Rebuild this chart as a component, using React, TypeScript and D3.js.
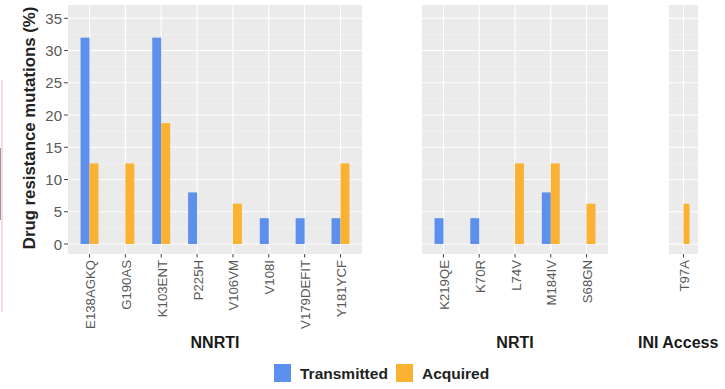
import React from "react";
import * as d3 from "d3";

const nnrtiCats = ["E138AGKQ", "G190AS", "K103ENT", "P225H", "V106VM", "V108I", "V179DEFIT", "Y181YCF"];
const nnrtiTransmitted = [32, 0, 32, 8, 0, 4, 4, 4];
const nnrtiAcquired = [12.5, 12.5, 18.75, 0, 6.25, 0, 0, 12.5];

const nrtiCats = ["K219QE", "K70R", "L74V", "M184IV", "S68GN"];
const nrtiTransmitted = [4, 4, 0, 8, 0];
const nrtiAcquired = [0, 0, 12.5, 12.5, 6.25];

const iniCats = ["T97A"];
const iniTransmitted = [0];
const iniAcquired = [6.25];

const panelNames = ["NNRTI", "NRTI", "INI Access"];
const yTicks = [0, 5, 10, 15, 20, 25, 30, 35];
const seriesNames = ["Transmitted", "Acquired"];
const colors = ["#5d8fec", "#fbb232"];

const W = 725, H = 389;
const panelTop = 5, panelBottom = 254;
const y = d3.scaleLinear().domain([0, 35]).range([244, 18.3]);

const panels = [
  { name: panelNames[0], cats: nnrtiCats, t: nnrtiTransmitted, a: nnrtiAcquired, x0: 68, x1: 362 },
  { name: panelNames[1], cats: nrtiCats, t: nrtiTransmitted, a: nrtiAcquired, x0: 422, x1: 608 },
  { name: panelNames[2], cats: iniCats, t: iniTransmitted, a: iniAcquired, x0: 669, x1: 698 },
];

const font = "'Liberation Sans', Arial, sans-serif";

export default function App() {
  const minor = d3.range(2.5, 36, 5);
  return (
    <svg width={W} height={H} style={{ position: "absolute", left: 0, top: 0, background: "#fff" }} fontFamily={font}>
      <rect x={0} y={0} width={W} height={H} fill="#fff" />
      <line x1={2} x2={2} y1={80} y2={312} stroke="#f4c6c8" strokeWidth={1.2} />
      <line x1={0.5} x2={0.5} y1={148} y2={220} stroke="#999" strokeWidth={1} />
      {panels.map((p, pi) => {
        const n = p.cats.length;
        const x = d3.scalePoint<string>().domain(p.cats).range([0, n - 1]);
        const unit = (p.x1 - p.x0) / (n - 1 + 1.2);
        const cx = (c: string) => p.x0 + (0.6 + (x(c) as number)) * unit;
        const bw = unit * 0.25;
        return (
          <g key={pi}>
            <rect x={p.x0} y={panelTop} width={p.x1 - p.x0} height={panelBottom - panelTop} fill="#ebebeb" />
            {minor.map((v) => (
              <line key={"m" + v} x1={p.x0} x2={p.x1} y1={y(v)} y2={y(v)} stroke="#f5f5f5" strokeWidth={0.6} />
            ))}
            {yTicks.map((v) => (
              <line key={"g" + v} x1={p.x0} x2={p.x1} y1={y(v)} y2={y(v)} stroke="#fff" strokeWidth={1.1} />
            ))}
            {p.cats.map((c) => (
              <line key={"v" + c} x1={cx(c)} x2={cx(c)} y1={panelTop} y2={panelBottom} stroke="#fff" strokeWidth={1.1} />
            ))}
            {p.cats.map((c, i) => (
              <g key={"b" + c}>
                {p.t[i] > 0 && (
                  <rect x={cx(c) - bw} y={y(p.t[i])} width={bw} height={y(0) - y(p.t[i])} fill={colors[0]} />
                )}
                {p.a[i] > 0 && (
                  <rect x={cx(c)} y={y(p.a[i])} width={bw} height={y(0) - y(p.a[i])} fill={colors[1]} />
                )}
              </g>
            ))}
            {p.cats.map((c) => (
              <g key={"t" + c}>
                <line x1={cx(c)} x2={cx(c)} y1={panelBottom} y2={panelBottom + 3.5} stroke="#444" strokeWidth={1} />
                <text
                  transform={`translate(${cx(c) + 1},${panelBottom + 6}) rotate(-90)`}
                  textAnchor="end"
                  dominantBaseline="central"
                  fontSize={13.2}
                  fill="#595959"
                >
                  {c}
                </text>
              </g>
            ))}
            <text
              x={pi === 2 ? 638 : (p.x0 + p.x1) / 2}
              y={348}
              textAnchor={pi === 2 ? "start" : "middle"}
              fontSize={16}
              fontWeight="bold"
              fill="#1a1a1a"
            >
              {p.name}
            </text>
          </g>
        );
      })}
      {yTicks.map((v) => (
        <g key={"yt" + v}>
          <line x1={64} x2={68} y1={y(v)} y2={y(v)} stroke="#444" strokeWidth={1} />
          <text x={62} y={y(v)} textAnchor="end" dominantBaseline="central" fontSize={15} fill="#595959">
            {v}
          </text>
        </g>
      ))}
      <text
        transform={`translate(29,128) rotate(-90)`}
        textAnchor="middle"
        dominantBaseline="central"
        fontSize={16.8}
        fontWeight="bold"
        fill="#222"
      >
        Drug resistance mutations (%)
      </text>
      <g>
        <rect x={274} y={364} width={17} height={18} fill={colors[0]} />
        <text x={300} y={373} dominantBaseline="central" fontSize={15.5} fontWeight="bold" fill="#222">
          {seriesNames[0]}
        </text>
        <rect x={396} y={364} width={17} height={18} fill={colors[1]} />
        <text x={422} y={373} dominantBaseline="central" fontSize={15.5} fontWeight="bold" fill="#222">
          {seriesNames[1]}
        </text>
      </g>
    </svg>
  );
}
